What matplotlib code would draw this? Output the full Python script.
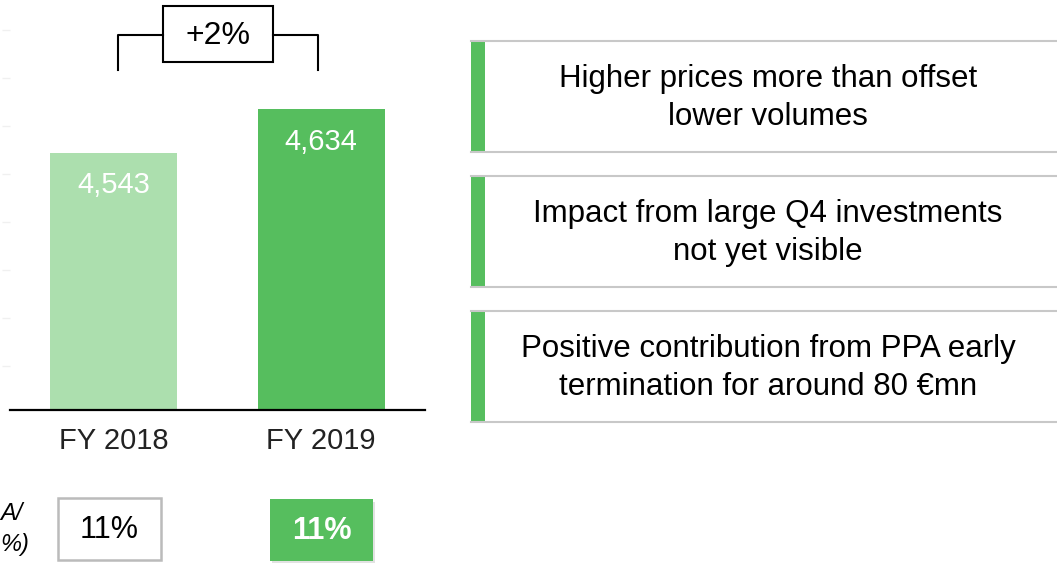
import matplotlib.pyplot as plt
from matplotlib.patches import Rectangle

plt.rcParams['font.family'] = ['Liberation Sans', 'DejaVu Sans']

# data
years = ['FY 2018', 'FY 2019']
values = [4543, 4634]
value_labels = ['4,543', '4,634']
growth = '+2%'
margins = ['11%', '11%']
comments = ['Higher prices more than offset\nlower volumes',
            'Impact from large Q4 investments\nnot yet visible',
            'Positive contribution from PPA early\ntermination for around 80 €mn']

light_green = '#ACDFAE'
green = '#56BE5E'

W, H = 1057, 563
fig = plt.figure(figsize=(W / 100, H / 100), dpi=100)

def fx(px):
    return px / W

def fy(py):
    return 1 - py / H

# bar chart axes
ax = fig.add_axes([fx(10), fy(410), fx(415), 410 / H])
ax.bar([0, 1], values, width=0.612, color=[light_green, green], zorder=2)
ax.set_xlim(-0.5, 1.5)
ax.set_ylim(4008, 4862)
for i, (v, lab) in enumerate(zip(values, value_labels)):
    ax.text(i, v - 38, lab, ha='center', va='top', color='white', fontsize=21)
ax.set_xticks([0, 1])
ax.set_xticklabels(years, fontsize=21)
ax.tick_params(axis='x', length=0, pad=12, colors='#222222')
ax.set_yticks(range(4100, 4900, 100))
ax.set_yticklabels([])
ax.tick_params(axis='y', length=6, pad=4, color='#f0f0f0', width=1)
for s in ['top', 'right', 'left']:
    ax.spines[s].set_visible(False)
ax.spines['bottom'].set_linewidth(1.6)
ax.patch.set_alpha(0)

# overlay in pixel coordinates
ov = fig.add_axes([0, 0, 1, 1], zorder=-1)
ov.set_xlim(0, W)
ov.set_ylim(H, 0)
ov.axis('off')

# growth bracket
ov.plot([118, 118, 163], [70, 35, 35], color='black', lw=1.5)
ov.plot([273, 318, 318], [35, 35, 70], color='black', lw=1.5)
ov.add_patch(Rectangle((163, 6), 110, 56, fill=False, ec='black', lw=1.5))
ov.text(218, 36, growth, ha='center', va='center', fontsize=23)

# margin boxes
ov.add_patch(Rectangle((58, 498), 103, 62, fill=False, ec='#bbbbbb', lw=1.8))
ov.text(109.5, 530, margins[0], ha='center', va='center', fontsize=22)
ov.add_patch(Rectangle((272, 502), 103, 62, color='#e2e2e2', lw=0))
ov.add_patch(Rectangle((270, 499), 103, 62, color=green, lw=0))
ov.text(321.5, 531, margins[1], ha='center', va='center', fontsize=22,
        color='white', fontweight='bold')
ov.text(0, 513, 'A/', ha='left', va='center', fontsize=17, style='italic')
ov.text(0, 545, '%)', ha='left', va='center', fontsize=17, style='italic')

# comment boxes
tops = [41, 176, 311]
for top, txt in zip(tops, comments):
    ov.plot([471, W], [top, top], color='#c8c8c8', lw=1.5)
    ov.plot([471, W], [top + 111, top + 111], color='#c8c8c8', lw=1.5)
    ov.add_patch(Rectangle((471, top), 14, 111, color=green, lw=0))
    ov.text(768, top + 57, txt, ha='center', va='center', fontsize=22.5,
            linespacing=1.38)

fig.savefig('out.png', dpi=100)
